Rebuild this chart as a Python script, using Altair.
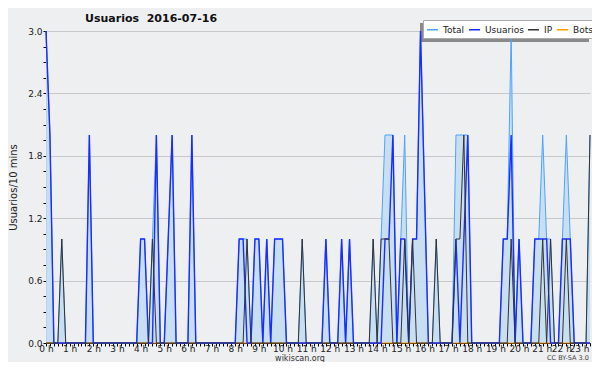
import altair as alt
import pandas as pd

# 10-minute bins, 0:00 .. 23:00 (139 points), one row per hour (6 bins)
usuarios = [
    3, 2, 0, 0, 0, 0,
    0, 0, 0, 0, 0, 2,
    0, 0, 0, 0, 0, 0,
    0, 0, 0, 0, 0, 0,
    1, 1, 0, 0, 2, 0,
    0, 1, 2, 0, 0, 0,
    0, 2, 0, 0, 0, 0,
    0, 0, 0, 0, 0, 0,
    0, 1, 1, 0, 0, 1,
    1, 0, 1, 0, 1, 1,
    1, 0, 0, 0, 0, 0,
    0, 0, 0, 0, 0, 1,
    0, 0, 0, 1, 0, 1,
    0, 0, 0, 0, 0, 0,
    0, 0, 1, 1, 2, 0,
    1, 1, 0, 1, 1, 3,
    1.5, 0, 0, 0, 0, 0,
    0, 0, 1, 0, 1, 2,
    0, 0, 0, 0, 0, 0,
    0, 0, 1, 1, 2, 0,
    1, 0, 0, 0, 1, 1,
    1, 1, 0, 0, 0, 1,
    1, 1, 0, 0, 0, 0,
    0,
]
ip = [
    0, 0, 0, 0, 1, 0,
    0, 0, 0, 0, 0, 0,
    0, 0, 0, 0, 0, 0,
    0, 0, 0, 0, 0, 0,
    0, 0, 0, 1, 0, 0,
    0, 0, 0, 0, 0, 0,
    0, 0, 0, 0, 0, 0,
    0, 0, 0, 0, 0, 0,
    0, 0, 0, 1, 0, 0,
    0, 0, 0, 0, 0, 0,
    0, 0, 0, 0, 0, 1,
    0, 0, 0, 0, 0, 0,
    0, 0, 0, 0, 0, 0,
    0, 0, 0, 0, 0, 1,
    0, 1, 1, 1, 0, 0,
    0, 1, 0, 1, 0, 0,
    0, 0, 0, 1, 0, 0,
    0, 0, 1, 1, 2, 0,
    0, 0, 0, 0, 0, 0,
    0, 0, 0, 0, 1, 0,
    0, 0, 0, 0, 0, 0,
    1, 0, 1, 0, 0, 0,
    1, 0, 0, 0, 0, 0,
    2,
]
total = [
    3, 2, 0, 0, 1, 0,
    0, 0, 0, 0, 0, 2,
    0, 0, 0, 0, 0, 0,
    0, 0, 0, 0, 0, 0,
    1, 1, 0, 1, 2, 0,
    0, 1, 2, 0, 0, 0,
    0, 2, 0, 0, 0, 0,
    0, 0, 0, 0, 0, 0,
    0, 1, 1, 1, 0, 1,
    1, 0, 1, 0, 1, 1,
    1, 0, 0, 0, 0, 1,
    0, 0, 0, 0, 0, 1,
    0, 0, 0, 1, 0, 1,
    0, 0, 0, 0, 0, 1,
    0, 1, 2, 2, 2, 0,
    1, 2, 0, 1, 1, 3,
    1.5, 0, 0, 1, 0, 0,
    0, 0, 2, 2, 2, 2,
    0, 0, 0, 0, 0, 0,
    0, 0, 1, 1, 3, 0,
    1, 0, 0, 0, 1, 1,
    2, 1, 1, 0, 0, 1,
    2, 1, 0, 0, 0, 0,
    2,
]
bots = [0] * len(total)

series_names = ["Total", "Usuarios", "IP", "Bots"]
series_colors = ["#4da3ff", "#1a2cff", "#333333", "#ff9a00"]

rows = []
for name, vals in zip(series_names, [total, usuarios, ip, bots]):
    for i, v in enumerate(vals):
        rows.append({"h": i / 6, "v": v, "series": name})
df = pd.DataFrame(rows)

FONT = "DejaVu Sans"

x_enc = alt.X(
    "h:Q",
    scale=alt.Scale(domain=[0, 23], nice=False, zero=False),
    axis=alt.Axis(
        values=[i / 6 for i in range(139)],
        labelExpr="datum.value % 1 == 0 ? datum.value + ' h' : ''",
        labelOverlap=False,
        labelFlush=False,
        labelFont=FONT,
        labelFontSize=9,
        labelColor="#222",
        labelPadding=-2,
        labelOffset={"expr": "datum.value == 23 ? -11 : (datum.value == 22 ? -5 : (datum.value == 21 ? -1 : 0))"},
        tickSize=3,
        tickColor="#000",
        domainColor="#000",
        grid=False,
        title=None,
    ),
)
y_enc = alt.Y(
    "v:Q",
    scale=alt.Scale(domain=[0, 3], nice=False),
    axis=alt.Axis(
        values=[k * 0.15 for k in range(21)],
        labelExpr="round(datum.value*100) % 60 == 0 ? format(datum.value, '.1f') : ''",
        labelOverlap=False,
        labelFlush=False,
        labelFont=FONT,
        labelFontSize=9,
        labelColor="#222",
        labelPadding=1,
        tickSize=3,
        tickColor="#000",
        domainColor="#000",
        grid=True,
        gridColor="#c8c8c8",
        gridOpacity={"condition": {"test": "round(datum.value*100) % 60 == 0", "value": 1}, "value": 0},
        title="Usuarios/10 mins",
        titleFont=FONT,
        titleFontSize=10,
        titleFontWeight="normal",
        titleColor="#222",
        titlePadding=9,
    ),
)
color_enc = alt.Color(
    "series:N",
    scale=alt.Scale(domain=series_names, range=series_colors),
    legend=alt.Legend(
        title=None,
        orient="none",
        legendX=377,
        legendY=-11,
        direction="horizontal",
        symbolType="stroke",
        symbolSize=121,
        symbolStrokeWidth=1.5,
        labelFont=FONT,
        labelFontSize=9,
        labelColor="#222",
        labelOffset=4,
        columnPadding=1,
        padding=3,
        fillColor="#ffffff",
        strokeColor="#aaaaaa",
    ),
)

base = alt.Chart(df)
area = base.transform_filter(alt.datum.series == "Total").mark_area(
    color="#c5dcf0", opacity=0.95
).encode(x=x_enc, y=y_enc)


def line(name, width):
    return base.transform_filter(alt.datum.series == name).mark_line(
        strokeWidth=width
    ).encode(x=x_enc, y=y_enc, color=color_enc)


one = alt.Data(values=[{}])
shadow = alt.Chart(one).mark_rect(color="#8a8a8a").encode(
    x=alt.value(374), x2=alt.value(543), y=alt.value(-8), y2=alt.value(11)
)
site = alt.Chart(one).mark_text(
    text="wikiscan.org", font=FONT, fontSize=8, color="#333", align="center",
    baseline="alphabetic",
).encode(x=alt.value(254), y=alt.value(330))
cc = alt.Chart(one).mark_text(
    text="CC BY-SA 3.0", font=FONT, fontSize=6.5, color="#444", align="center",
    baseline="middle",
).encode(x=alt.value(522), y=alt.value(327))

chart = alt.layer(
    shadow,
    area,
    line("Bots", 1),
    line("Total", 1),
    line("Usuarios", 1.4),
    line("IP", 1),
    site,
    cc,
).properties(
    width=544,
    height=312,
    autosize=alt.AutoSizeParams(type="none"),
    padding={"left": 38, "top": 23, "right": 2, "bottom": 19},
    background="#eeeff1",
    title=alt.TitleParams(
        "Usuarios\u00a0\u00a02016-07-16",
        anchor="start",
        frame="group",
        dx=39,
        dy=12,
        offset=8,
        font=FONT,
        fontSize=11,
        fontWeight="bold",
        color="#111",
    ),
).configure_view(stroke=None)

chart.save("out.html", embed_options={"renderer": "svg", "actions": False})
